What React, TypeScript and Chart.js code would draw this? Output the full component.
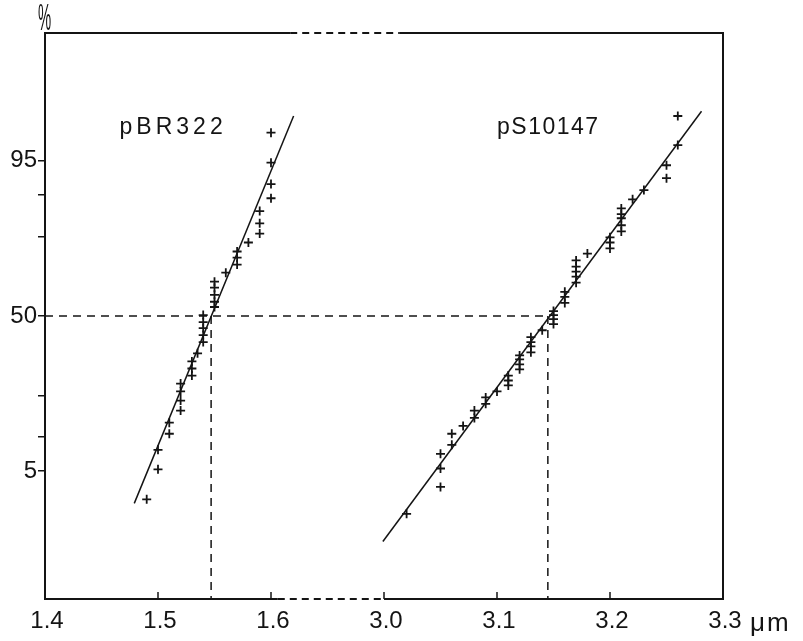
import { useEffect, useRef } from 'react';
import { Chart, registerables } from 'chart.js';

Chart.register(...registerables);

const FONT = '"Liberation Sans", Arial, Helvetica, sans-serif';

// x axis is broken: values from 3.0 µm are drawn 1.3 to the left
const BREAK_SHIFT = 1.3;
const X_TICKS = [1.4, 1.5, 1.6, 3.0, 3.1, 3.2, 3.3];
const X_TICK_LABELS = ['1.4', '1.5', '1.6', '3.0', '3.1', '3.2', '3.3'];
const Y_TICKS = [5, 10, 20, 50, 80, 90, 95];
const Y_TICK_LABELS = ['5', '', '', '50', '', '', '95'];
const X_UNIT = 'μm';
const Y_UNIT = '%';

// pBR322 measured lengths (µm) and cumulative %
const PBR_X = [1.49, 1.50, 1.50, 1.51, 1.51, 1.52, 1.52, 1.52, 1.52, 1.53, 1.53, 1.53, 1.535, 1.54, 1.54, 1.54, 1.54, 1.54, 1.55, 1.55, 1.55, 1.55, 1.55, 1.56, 1.57, 1.57, 1.57, 1.58, 1.59, 1.59, 1.59, 1.60, 1.60, 1.60, 1.60];
const PBR_P = [2.6, 5.2, 7.8, 10.6, 12.9, 15.8, 18.5, 21.2, 23.7, 26.4, 28.9, 31.5, 34.6, 39.1, 42.0, 44.9, 47.4, 50.4, 53.8, 56.0, 58.9, 61.8, 64.2, 67.7, 70.7, 73.2, 75.3, 78.2, 80.9, 83.7, 86.7, 89.4, 91.9, 94.8, 97.4];

// pS10147 measured lengths (µm) and cumulative %
const PS_X = [3.02, 3.05, 3.05, 3.05, 3.06, 3.06, 3.07, 3.08, 3.08, 3.09, 3.09, 3.10, 3.11, 3.11, 3.11, 3.12, 3.12, 3.12, 3.12, 3.13, 3.13, 3.13, 3.13, 3.14, 3.15, 3.15, 3.15, 3.15, 3.16, 3.16, 3.16, 3.17, 3.17, 3.17, 3.17, 3.17, 3.18, 3.20, 3.20, 3.20, 3.21, 3.21, 3.21, 3.21, 3.21, 3.22, 3.23, 3.25, 3.25, 3.26, 3.26];
const PS_P = [1.8, 3.5, 5.3, 7.2, 8.6, 10.6, 12.2, 14.0, 15.8, 17.6, 19.4, 21.2, 23.1, 24.7, 26.4, 28.6, 30.4, 32.3, 33.8, 35.0, 37.4, 39.1, 41.1, 44.0, 46.6, 48.7, 50.4, 52.1, 55.5, 58.0, 60.1, 63.8, 66.2, 68.1, 70.0, 72.2, 74.6, 76.3, 78.2, 79.8, 81.5, 83.2, 85.0, 86.0, 87.3, 89.2, 90.9, 92.8, 94.5, 96.5, 98.3];

// fitted lines (endpoints)
const PBR_FIT_X = [1.479, 1.620];
const PBR_FIT_P = [2.35, 98.3];
const PS_FIT_X = [2.999, 3.281];
const PS_FIT_P = [0.84, 98.5];

// medians
const MEDIAN_P = 50;
const MEDIAN_X = [1.547, 3.145];

const SERIES_NAMES = ['pBR322', 'pS10147'];
const SERIES_LABEL_X = [1.466, 3.10];
const SERIES_LABEL_P = [97.3, 97.3];

const P_MIN = 0.135;
const Z_MIN = -3;
const Z_MAX = 3;

// axis-break segments (drawn coordinates)
const BREAK_TOP = [1.617, 1.714];
const BREAK_BOTTOM = [1.606, 1.700];

function mapX(v: number) {
  return v >= 2.5 ? v - BREAK_SHIFT : v;
}

function probit(pct: number) {
  const p = pct / 100;
  const a = [-3.969683028665376e1, 2.209460984245205e2, -2.759285104469687e2, 1.38357751867269e2, -3.066479806614716e1, 2.506628277459239];
  const b = [-5.447609879822406e1, 1.615858368580409e2, -1.556989798598866e2, 6.680131188771972e1, -1.328068155288572e1];
  const c = [-7.784894002430293e-3, -3.223964580411365e-1, -2.400758277161838, -2.549732539343734, 4.374664141464968, 2.938163982698783];
  const d = [7.784695709041462e-3, 3.224671290700398e-1, 2.445134137142996, 3.754408661907416];
  const plow = 0.02425;
  const phigh = 1 - plow;
  if (p < plow) {
    const q = Math.sqrt(-2 * Math.log(p));
    return (((((c[0] * q + c[1]) * q + c[2]) * q + c[3]) * q + c[4]) * q + c[5]) / ((((d[0] * q + d[1]) * q + d[2]) * q + d[3]) * q + 1);
  }
  if (p <= phigh) {
    const q = p - 0.5;
    const r = q * q;
    return ((((((a[0] * r + a[1]) * r + a[2]) * r + a[3]) * r + a[4]) * r + a[5]) * q) / (((((b[0] * r + b[1]) * r + b[2]) * r + b[3]) * r + b[4]) * r + 1);
  }
  const q = Math.sqrt(-2 * Math.log(1 - p));
  return -(((((c[0] * q + c[1]) * q + c[2]) * q + c[3]) * q + c[4]) * q + c[5]) / ((((d[0] * q + d[1]) * q + d[2]) * q + d[3]) * q + 1);
}

function pts(xs: number[], ps: number[]) {
  return xs.map((x, i) => ({ x: mapX(x), y: probit(ps[i]) }));
}

const INK = '#141414';

const framePlugin = {
  id: 'frame',
  afterDatasetsDraw(chart: any) {
    const { ctx, chartArea: a, scales } = chart;
    const xs = scales.x;
    const ys = scales.y;
    ctx.save();
    ctx.strokeStyle = INK;
    ctx.lineCap = 'butt';
    const seg = (x1: number, y1: number, x2: number, y2: number, dash: number[]) => {
      ctx.setLineDash(dash);
      ctx.beginPath();
      ctx.moveTo(x1, y1);
      ctx.lineTo(x2, y2);
      ctx.stroke();
    };
    ctx.lineWidth = 2;
    seg(a.left, a.top - 1, a.left, a.bottom + 1, []);
    seg(a.right, a.top - 1, a.right, a.bottom + 1, []);
    const t1 = xs.getPixelForValue(BREAK_TOP[0]);
    const t2 = xs.getPixelForValue(BREAK_TOP[1]);
    seg(a.left, a.top, t1, a.top, []);
    seg(t1, a.top, t2, a.top, [7, 5]);
    seg(t2, a.top, a.right, a.top, []);
    const b1 = xs.getPixelForValue(BREAK_BOTTOM[0]);
    const b2 = xs.getPixelForValue(BREAK_BOTTOM[1]);
    seg(a.left, a.bottom, b1, a.bottom, []);
    seg(b1, a.bottom, b2, a.bottom, [7, 5]);
    seg(b2, a.bottom, a.right, a.bottom, []);
    ctx.lineWidth = 1.5;
    for (const v of X_TICKS) {
      const px = xs.getPixelForValue(mapX(v));
      seg(px, a.bottom, px, a.bottom - 7, []);
    }
    ctx.setLineDash([]);
    ctx.fillStyle = INK;
    ctx.textAlign = 'left';
    ctx.textBaseline = 'alphabetic';
    ctx.font = `23px ${FONT}`;
    const spacing = ['4px', '1.5px'];
    SERIES_NAMES.forEach((name, i) => {
      ctx.letterSpacing = spacing[i];
      ctx.fillText(name, xs.getPixelForValue(mapX(SERIES_LABEL_X[i])), ys.getPixelForValue(probit(SERIES_LABEL_P[i])));
    });
    ctx.font = `26px ${FONT}`;
    ctx.letterSpacing = '2px';
    ctx.fillText(X_UNIT, a.right + 27, a.bottom + 32);
    ctx.letterSpacing = '0px';
    ctx.save();
    ctx.translate(a.left - 7, a.top - 3);
    ctx.scale(0.4, 1);
    ctx.font = `37px ${FONT}`;
    ctx.fillText(Y_UNIT, 0, 0);
    ctx.restore();
    ctx.restore();
  },
};

export default function App() {
  const ref = useRef<HTMLCanvasElement | null>(null);
  useEffect(() => {
    if (!ref.current) return;
    const cross = {
      showLine: false,
      pointStyle: 'cross',
      pointRadius: 4.5,
      pointBorderWidth: 1.8,
      borderColor: INK,
      backgroundColor: INK,
    };
    const line = {
      showLine: true,
      pointRadius: 0,
      borderColor: INK,
      borderWidth: 1.5,
      fill: false,
    };
    const dash = { ...line, borderWidth: 1.5, borderDash: [8, 6] };
    const chart = new Chart(ref.current, {
      type: 'scatter',
      data: {
        datasets: [
          { ...dash, data: [{ x: 1.4, y: probit(MEDIAN_P) }, { x: mapX(MEDIAN_X[1]), y: probit(MEDIAN_P) }] },
          { ...dash, data: [{ x: mapX(MEDIAN_X[0]), y: probit(MEDIAN_P) }, { x: mapX(MEDIAN_X[0]), y: probit(P_MIN) }] },
          { ...dash, data: [{ x: mapX(MEDIAN_X[1]), y: probit(MEDIAN_P) }, { x: mapX(MEDIAN_X[1]), y: probit(P_MIN) }] },
          { ...line, data: pts(PBR_FIT_X, PBR_FIT_P) },
          { ...line, data: pts(PS_FIT_X, PS_FIT_P) },
          { ...cross, data: pts(PBR_X, PBR_P) },
          { ...cross, data: pts(PS_X, PS_P) },
        ] as any,
      },
      options: {
        responsive: false,
        animation: false,
        devicePixelRatio: 1,
        layout: { padding: { top: 33, right: 80, left: 0, bottom: 0 } },
        plugins: { legend: { display: false }, tooltip: { enabled: false } },
        scales: {
          x: {
            type: 'linear',
            min: 1.4,
            max: 2.0,
            afterFit(s: any) { s.height = 42; },
            afterBuildTicks(s: any) { s.ticks = X_TICKS.map((v) => ({ value: mapX(v) })); },
            ticks: {
              callback: (_v: any, i: number) => X_TICK_LABELS[i],
              color: INK,
              font: { family: FONT, size: 24 },
              padding: 8,
              labelOffset: 2,
              maxRotation: 0,
              autoSkip: false,
            },
            grid: { display: false, drawTicks: false },
            border: { display: false },
          },
          y: {
            type: 'linear',
            min: Z_MIN,
            max: Z_MAX,
            afterFit(s: any) { s.width = 45; },
            afterBuildTicks(s: any) { s.ticks = Y_TICKS.map((p) => ({ value: probit(p) })); },
            ticks: {
              callback: (_v: any, i: number) => Y_TICK_LABELS[i],
              color: INK,
              font: { family: FONT, size: 24 },
              padding: 1,
              autoSkip: false,
            },
            grid: { drawOnChartArea: false, drawTicks: true, tickLength: 7, color: INK, lineWidth: 1.5 },
            border: { display: false },
          },
        },
      } as any,
      plugins: [framePlugin],
    });
    return () => chart.destroy();
  }, []);
  return (
    <div style={{ position: 'fixed', left: 0, top: 0, width: 803, height: 641, background: '#fff' }}>
      <canvas ref={ref} width={803} height={641} style={{ display: 'block' }} />
    </div>
  );
}
